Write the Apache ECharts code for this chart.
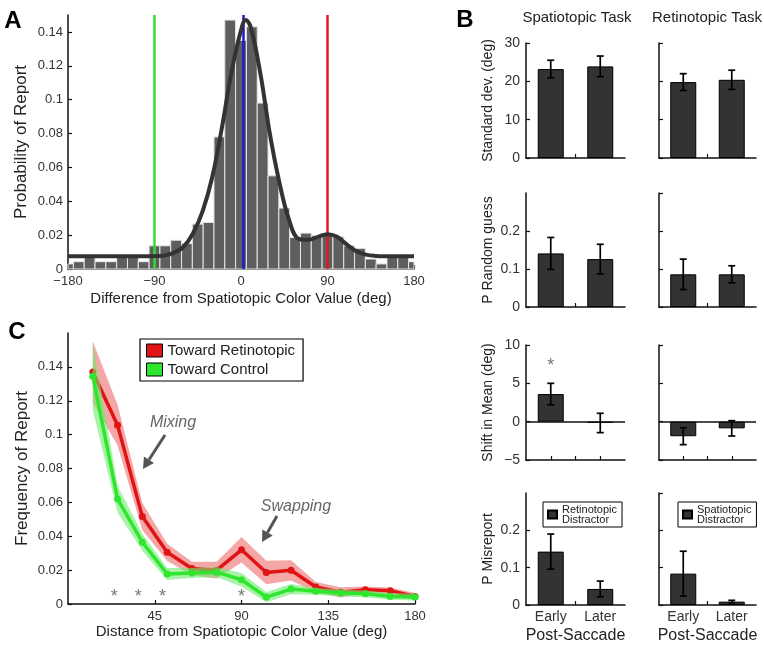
<!DOCTYPE html>
<html>
<head>
<meta charset="utf-8">
<script src="https://cdn.jsdelivr.net/npm/echarts@6/dist/echarts.min.js"></script>
<style>
  html, body { margin: 0; padding: 0; background: #fff; }
  #main { width: 764px; height: 645px; }
</style>
</head>
<body>
<div id="main"></div>
<script>
// ---- panel A: histogram of report error + mixture fit
const binWidth = 11.25
const binCenters = [-180, -168.75, -157.5, -146.25, -135, -123.75, -112.5, -101.25, -90, -78.75, -67.5,
  -56.25, -45, -33.75, -22.5, -11.25, 0, 11.25, 22.5, 33.75, 45, 56.25, 67.5, 78.75, 90, 101.25,
  112.5, 123.75, 135, 146.25, 157.5, 168.75, 180]
const histProb = [0.003, 0.0043, 0.007, 0.0043, 0.0043, 0.007, 0.007, 0.0043, 0.0137, 0.0137, 0.017,
  0.015, 0.0265, 0.0275, 0.078, 0.147, 0.135, 0.143, 0.098, 0.055, 0.036, 0.0186, 0.0212, 0.0196,
  0.0206, 0.019, 0.0137, 0.0122, 0.0059, 0.003, 0.0082, 0.0075, 0.0043]
const fitDeg = [-180, -150, -120, -90, -80, -70, -60, -50, -40, -30, -20, -10, 0, 5, 10, 20, 30, 40,
  50, 60, 70, 80, 90, 100, 110, 120, 130, 140, 150, 180]
const fitProb = [0.0075, 0.0075, 0.0075, 0.0076, 0.008, 0.0095, 0.013, 0.021, 0.034, 0.054, 0.083,
  0.116, 0.141, 0.147, 0.143, 0.116, 0.080, 0.051, 0.029, 0.0178, 0.0172, 0.019, 0.0205, 0.019,
  0.0145, 0.0105, 0.0085, 0.0077, 0.0075, 0.0075]
const refLines = [
  {deg: -90, color: '#2fe02f'},   // control
  {deg: 2, color: '#1a1ad0'},     // spatiotopic
  {deg: 90, color: '#e01a1a'}     // retinotopic
]
const xTicksA = [-180, -90, 0, 90, 180]

// ---- panel C: frequency of report by distance
const distDeg = [12.86, 25.71, 38.57, 51.43, 64.29, 77.14, 90, 102.86, 115.71, 128.57, 141.43, 154.29, 167.14, 180]
const towardRetino = [0.137, 0.1056, 0.0516, 0.0306, 0.021, 0.020, 0.032, 0.0186, 0.0199, 0.010, 0.0069, 0.0084, 0.0078, 0.0045]
const retinoErr = [0.018, 0.012, 0.008, 0.005, 0.004, 0.005, 0.0075, 0.007, 0.006, 0.003, 0.003, 0.002, 0.002, 0.002]
const towardControl = [0.1345, 0.062, 0.0365, 0.0177, 0.0183, 0.0188, 0.0143, 0.0041, 0.0088, 0.0075, 0.0065, 0.006, 0.0045, 0.0041]
const controlErr = [0.02, 0.008, 0.005, 0.0035, 0.003, 0.003, 0.004, 0.003, 0.003, 0.002, 0.002, 0.002, 0.002, 0.002]
const sigDeg = [24, 36.5, 49, 90]

// ---- panel B: model parameters, early vs later post-saccade
const phases = ['Early', 'Later']
const tasks = ['Spatiotopic Task', 'Retinotopic Task']
const sdSpatio = [23.2, 23.9], sdSpatioErr = [2.3, 2.7]
const sdRetino = [19.8, 20.4], sdRetinoErr = [2.2, 2.5]
const guessSpatio = [0.141, 0.126], guessSpatioErr = [0.042, 0.039]
const guessRetino = [0.086, 0.086], guessRetinoErr = [0.040, 0.0225]
const shiftSpatio = [3.6, -0.17], shiftSpatioErr = [1.4, 1.26]
const shiftRetino = [-1.9, -0.87], shiftRetinoErr = [1.1, 1.0]
const misSpatio = [0.143, 0.043], misSpatioErr = [0.047, 0.021]
const misRetino = [0.084, 0.009], misRetinoErr = [0.06, 0.0035]

const FONT = 'Liberation Sans, Arial, sans-serif'
const minus = v => String(v).replace('-', '\u2212')

function axisLine() {
  return {show: true, onZero: false, lineStyle: {color: '#111', width: 1.5}}
}
function tick() {
  return {show: true, inside: true, length: 4, lineStyle: {color: '#111', width: 1.2}}
}

var myChart = echarts.init(document.getElementById('main'))

let grid = [], xAxis = [], yAxis = [], series = []

// A
grid.push({left: 68, top: 15, width: 346, height: 254})
xAxis.push({type: 'value', gridIndex: 0, min: -180, max: 180, interval: 90,
  axisLine: axisLine(), axisTick: tick(), splitLine: {show: false},
  axisLabel: {fontSize: 13, color: '#333', fontFamily: FONT, margin: 6, formatter: minus},
  name: 'Difference from Spatiotopic Color Value (deg)', nameLocation: 'middle', nameGap: 22,
  nameTextStyle: {fontSize: 15, color: '#222', fontFamily: FONT}})
yAxis.push({type: 'value', gridIndex: 0, min: 0, max: 0.15, interval: 0.02,
  axisLine: axisLine(), axisTick: tick(), splitLine: {show: false},
  axisLabel: {fontSize: 13, color: '#333', fontFamily: FONT, margin: 5, showMaxLabel: false},
  name: 'Probability of Report', nameLocation: 'middle', nameGap: 38,
  nameTextStyle: {fontSize: 17, color: '#222', fontFamily: FONT}})

series.push({
  type: 'custom', xAxisIndex: 0, yAxisIndex: 0, z: 2,
  data: binCenters.map((c, i) => [c, histProb[i]]),
  renderItem: function (params, api) {
    const x = api.value(0), y = api.value(1)
    const p0 = api.coord([x - binWidth / 2, y])
    const p1 = api.coord([x + binWidth / 2, 0])
    const cs = params.coordSys
    const shape = echarts.graphic.clipRectByRect(
      {x: p0[0], y: p0[1], width: p1[0] - p0[0], height: p1[1] - p0[1]},
      {x: cs.x, y: cs.y, width: cs.width, height: cs.height})
    return shape && {type: 'rect', shape: shape, style: {fill: '#5e5e5e', stroke: '#e6e6e6', lineWidth: 1}}
  }
})
series.push({
  type: 'line', xAxisIndex: 0, yAxisIndex: 0, z: 6, smooth: 0.4, symbol: 'none',
  data: fitDeg.map((d, i) => [d, fitProb[i]]),
  lineStyle: {color: '#333', width: 4},
  markLine: {
    silent: true, symbol: 'none', z: 4, label: {show: false},
    data: refLines.map(r => ({xAxis: r.deg, lineStyle: {color: r.color, width: 2.5, type: 'solid'}}))
  }
})

// C
grid.push({left: 68, top: 333, width: 347, height: 271})
xAxis.push({type: 'value', gridIndex: 1, min: 0, max: 180, interval: 45,
  axisLine: axisLine(), axisTick: tick(), splitLine: {show: false},
  axisLabel: {fontSize: 13, color: '#333', fontFamily: FONT, margin: 6, showMinLabel: false},
  name: 'Distance from Spatiotopic Color Value (deg)', nameLocation: 'middle', nameGap: 18,
  nameTextStyle: {fontSize: 15, color: '#222', fontFamily: FONT}})
yAxis.push({type: 'value', gridIndex: 1, min: 0, max: 0.16, interval: 0.02,
  axisLine: axisLine(), axisTick: tick(), splitLine: {show: false},
  axisLabel: {fontSize: 13, color: '#333', fontFamily: FONT, margin: 5, showMaxLabel: false},
  name: 'Frequency of Report', nameLocation: 'middle', nameGap: 37,
  nameTextStyle: {fontSize: 17, color: '#222', fontFamily: FONT}})

function band(mean, err, fill, z) {
  return {
    type: 'custom', xAxisIndex: 1, yAxisIndex: 1, z: z, silent: true,
    data: distDeg.map((d, i) => [d, mean[i]]),
    renderItem: function (params, api) {
      if (params.dataIndex !== 0) return null
      const up = distDeg.map((d, i) => api.coord([d, mean[i] + err[i]]))
      const lo = distDeg.map((d, i) => api.coord([d, mean[i] - err[i]])).reverse()
      return {type: 'polygon', shape: {points: up.concat(lo)}, style: {fill: fill}}
    }
  }
}
series.push(band(towardRetino, retinoErr, 'rgba(236,80,80,0.5)', 2))
series.push({
  name: 'Toward Retinotopic', type: 'line', xAxisIndex: 1, yAxisIndex: 1, z: 3,
  data: distDeg.map((d, i) => [d, towardRetino[i]]),
  symbol: 'circle', symbolSize: 7, color: '#e01414',
  lineStyle: {width: 3.5, color: '#e01414'}, itemStyle: {color: '#e01414'}
})
series.push(band(towardControl, controlErr, 'rgba(110,235,110,0.6)', 4))
series.push({
  name: 'Toward Control', type: 'line', xAxisIndex: 1, yAxisIndex: 1, z: 5,
  data: distDeg.map((d, i) => [d, towardControl[i]]),
  symbol: 'circle', symbolSize: 7, color: '#2ee62e',
  lineStyle: {width: 3.5, color: '#2ee62e'}, itemStyle: {color: '#2ee62e'}
})
series.push({
  type: 'scatter', xAxisIndex: 1, yAxisIndex: 1, z: 6, symbolSize: 1, silent: true,
  itemStyle: {color: 'rgba(0,0,0,0)'},
  data: sigDeg.map(d => [d, 0.0042]),
  label: {show: true, position: 'inside', formatter: '*', fontSize: 18, color: '#555', fontFamily: FONT}
})

// B
const rowsB = [
  {name: 'Standard dev. (deg)', min: 0, max: 30, interval: 10, vals: [sdSpatio, sdRetino], errs: [sdSpatioErr, sdRetinoErr]},
  {name: 'P Random guess', min: 0, max: 0.3, interval: 0.1, vals: [guessSpatio, guessRetino], errs: [guessSpatioErr, guessRetinoErr]},
  {name: 'Shift in Mean (deg)', min: -5, max: 10, interval: 5, vals: [shiftSpatio, shiftRetino], errs: [shiftSpatioErr, shiftRetinoErr]},
  {name: 'P Misreport', min: 0, max: 0.3, interval: 0.1, vals: [misSpatio, misRetino], errs: [misSpatioErr, misRetinoErr]}
]
const legendNamesB = ['Retinotopic\nDistractor', 'Spatiotopic\nDistractor']
const colLeft = [526, 659], colWidth = [99, 97]
const rowTop = [43, 193, 345, 493], rowHeight = [115, 114, 115, 114]

function errItem(params, api) {
  const x = api.value(0), lo = api.value(1), hi = api.value(2)
  const a = api.coord([x, hi]), b = api.coord([x, lo])
  const cap = 3.5
  const st = {stroke: '#000', lineWidth: 1.7}
  return {type: 'group', children: [
    {type: 'line', shape: {x1: a[0], y1: a[1], x2: b[0], y2: b[1]}, style: st},
    {type: 'line', shape: {x1: a[0] - cap, y1: a[1], x2: a[0] + cap, y2: a[1]}, style: st},
    {type: 'line', shape: {x1: b[0] - cap, y1: b[1], x2: b[0] + cap, y2: b[1]}, style: st}
  ]}
}

rowsB.forEach((row, r) => {
  for (let c = 0; c < 2; c++) {
    const gi = grid.length
    const last = r === rowsB.length - 1
    grid.push({left: colLeft[c], top: rowTop[r], width: colWidth[c], height: rowHeight[r]})
    xAxis.push({type: 'value', gridIndex: gi, min: 0, max: 4,
      axisLine: axisLine(), splitLine: {show: false},
      axisTick: Object.assign(tick(), {customValues: [1, 2, 3]}),
      axisLabel: {show: last, customValues: [1, 3], fontSize: 14, color: '#333', fontFamily: FONT, margin: 5,
        formatter: v => phases[(v - 1) / 2]},
      name: last ? 'Post-Saccade' : '', nameLocation: 'middle', nameGap: 23,
      nameTextStyle: {fontSize: 16, color: '#222', fontFamily: FONT}})
    yAxis.push({type: 'value', gridIndex: gi, min: row.min, max: row.max, interval: row.interval,
      axisLine: axisLine(), axisTick: tick(), splitLine: {show: false},
      axisLabel: {show: c === 0, fontSize: 14, color: '#333', fontFamily: FONT, margin: 6,
        showMaxLabel: row.max !== 0.3, formatter: minus},
      name: c === 0 ? row.name : '', nameLocation: 'middle', nameGap: 31,
      nameTextStyle: {fontSize: 14, color: '#222', fontFamily: FONT}})
    const vals = row.vals[c], errs = row.errs[c]
    const bar = {
      name: last ? legendNamesB[c] : 'b' + r + c, type: 'bar', xAxisIndex: gi, yAxisIndex: gi,
      barWidth: 26, data: vals.map((v, i) => [1 + 2 * i, v]),
      itemStyle: {color: '#333', borderColor: '#000', borderWidth: 1}
    }
    if (row.min < 0) {
      bar.markLine = {silent: true, symbol: 'none', label: {show: false},
        lineStyle: {color: '#111', width: 1.5, type: 'solid'}, data: [{yAxis: 0}]}
    }
    series.push(bar)
    series.push({type: 'custom', xAxisIndex: gi, yAxisIndex: gi, z: 5, renderItem: errItem,
      data: vals.map((v, i) => [1 + 2 * i, v - errs[i], v + errs[i]])})
    if (r === 2 && c === 0) {
      series.push({type: 'scatter', xAxisIndex: gi, yAxisIndex: gi, symbolSize: 1, silent: true,
        itemStyle: {color: 'rgba(0,0,0,0)'}, data: [[1, 7.2]],
        label: {show: true, position: 'inside', formatter: '*', fontSize: 18, color: '#555', fontFamily: FONT}})
    }
  }
})

function arrow(x1, y1, x2, y2) {
  const ang = Math.atan2(y2 - y1, x2 - x1), L = 11, W = 6
  const bx = x2 - L * Math.cos(ang), by = y2 - L * Math.sin(ang)
  const nx = -Math.sin(ang), ny = Math.cos(ang)
  return [
    {type: 'line', shape: {x1: x1, y1: y1, x2: bx, y2: by}, style: {stroke: '#555', lineWidth: 3}},
    {type: 'polygon', shape: {points: [[x2, y2], [bx + nx * W, by + ny * W], [bx - nx * W, by - ny * W]]}, style: {fill: '#555'}}
  ]
}
function label(text, x, y, size, opts) {
  return {type: 'text', x: x, y: y, style: Object.assign({text: text, fontSize: size, fontFamily: FONT,
    fill: '#222', align: 'center', verticalAlign: 'middle'}, opts || {})}
}

const graphic = [
  label('A', 13, 21, 24, {fontWeight: 'bold', fill: '#000'}),
  label('B', 465, 20, 24, {fontWeight: 'bold', fill: '#000'}),
  label('C', 17, 332, 24, {fontWeight: 'bold', fill: '#000'}),
  label(tasks[0], 577, 18, 15),
  label(tasks[1], 707, 18, 15),
  label('Mixing', 173, 423, 16, {fontStyle: 'italic', fill: '#666'}),
  label('Swapping', 296, 507, 16, {fontStyle: 'italic', fill: '#666'})
].concat(arrow(165, 435, 143, 469), arrow(277, 516, 262, 542))

option = {
  animation: false,
  backgroundColor: '#fff',
  textStyle: {fontFamily: FONT},
  grid: grid,
  xAxis: xAxis,
  yAxis: yAxis,
  legend: [
    {data: ['Toward Retinotopic', 'Toward Control'], orient: 'vertical', left: 140, top: 339,
      icon: 'rect', itemWidth: 16, itemHeight: 13, itemGap: 4, padding: [4, 8, 4, 6],
      borderColor: '#000', borderWidth: 1.2, selectedMode: false,
      itemStyle: {borderColor: '#000', borderWidth: 1},
      textStyle: {fontSize: 15, color: '#222', fontFamily: FONT}},
    {data: [legendNamesB[0]], left: 543, top: 502, icon: 'rect', itemWidth: 9, itemHeight: 8,
      padding: [2, 5, 2, 4], borderColor: '#000', borderWidth: 1, selectedMode: false,
      textStyle: {fontSize: 11, lineHeight: 10, color: '#222', fontFamily: FONT}},
    {data: [legendNamesB[1]], left: 678, top: 502, icon: 'rect', itemWidth: 9, itemHeight: 8,
      padding: [2, 5, 2, 4], borderColor: '#000', borderWidth: 1, selectedMode: false,
      textStyle: {fontSize: 11, lineHeight: 10, color: '#222', fontFamily: FONT}}
  ],
  graphic: graphic,
  series: series
}

myChart.setOption(option)
</script>
</body>
</html>
